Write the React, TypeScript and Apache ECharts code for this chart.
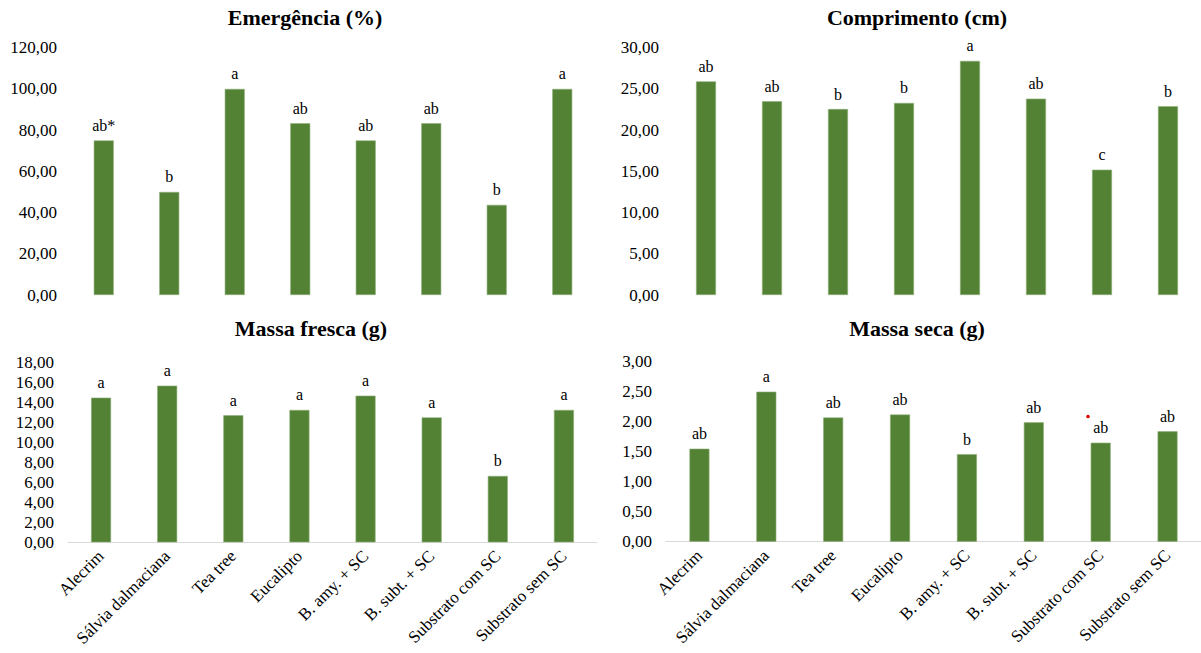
import React, { useEffect, useRef } from "react";
import * as echarts from "echarts";

const categories = [
  "Alecrim",
  "Sálvia dalmaciana",
  "Tea tree",
  "Eucalipto",
  "B. amy. + SC",
  "B. subt. + SC",
  "Substrato com SC",
  "Substrato sem SC",
];

const emergencia = [75, 50, 100, 83.33, 75, 83.33, 43.75, 100];
const emergenciaLetters = ["ab*", "b", "a", "ab", "ab", "ab", "b", "a"];

const comprimento = [25.92, 23.5, 22.56, 23.3, 28.4, 23.82, 15.2, 22.9];
const comprimentoLetters = ["ab", "ab", "b", "b", "a", "ab", "c", "b"];

const massaFresca = [14.5, 15.7, 12.73, 13.26, 14.7, 12.52, 6.65, 13.26];
const massaFrescaLetters = ["a", "a", "a", "a", "a", "a", "b", "a"];

const massaSeca = [1.55, 2.5, 2.07, 2.12, 1.46, 1.99, 1.65, 1.84];
const massaSecaLetters = ["ab", "a", "ab", "ab", "b", "ab", "ab", "ab"];

const titles = ["Emergência (%)", "Comprimento (cm)", "Massa fresca (g)", "Massa seca (g)"];

const FONT = "Liberation Serif";
const GREEN = "#548235";

export default function App() {
  const ref = useRef<HTMLDivElement>(null);

  useEffect(() => {
    if (!ref.current) return;
    const chart = echarts.init(ref.current, undefined, { renderer: "svg" });

    const grids = [
      { left: 71, width: 524, top: 47.7, height: 247.3 },
      { left: 673, width: 531, top: 47.7, height: 247.3 },
      { left: 68, width: 529, top: 362.7, height: 179.6 },
      { left: 666, width: 537, top: 361.7, height: 180 },
    ];
    const yCfg = [
      { max: 120, interval: 20 },
      { max: 30, interval: 5 },
      { max: 18, interval: 2 },
      { max: 3, interval: 0.5 },
    ];
    const values = [emergencia, comprimento, massaFresca, massaSeca];
    const letters = [emergenciaLetters, comprimentoLetters, massaFrescaLetters, massaSecaLetters];
    const titlePos = [
      { x: 305, y: 6 },
      { x: 917, y: 6 },
      { x: 311, y: 317 },
      { x: 917, y: 317 },
    ];

    const option: any = {
      animation: false,
      backgroundColor: "#ffffff",
      textStyle: { fontFamily: FONT },
      title: titles.map((t, i) => ({
        text: t,
        left: titlePos[i].x,
        top: titlePos[i].y,
        textAlign: "center",
        padding: 0,
        textStyle: { fontFamily: FONT, fontSize: 22, fontWeight: "bold", color: "#000" },
      })),
      grid: grids.map((g) => ({ ...g, containLabel: false })),
      xAxis: grids.map((_, i) => ({
        type: "category",
        gridIndex: i,
        data: categories,
        axisTick: { show: false },
        axisLine: { show: i >= 2, lineStyle: { color: "#d9d9d9", width: 1 } },
        axisLabel: {
          show: i >= 2,
          rotate: 45,
          interval: 0,
          margin: 11,
          fontFamily: FONT,
          fontSize: 17,
          color: "#000",
        },
      })),
      yAxis: grids.map((_, i) => ({
        type: "value",
        gridIndex: i,
        min: 0,
        max: yCfg[i].max,
        interval: yCfg[i].interval,
        splitLine: { show: false },
        axisLine: { show: false },
        axisTick: { show: false },
        axisLabel: {
          margin: 14,
          fontFamily: FONT,
          fontSize: 17,
          color: "#000",
          formatter: (v: number) => v.toFixed(2).replace(".", ","),
        },
      })),
      series: values.map((vals, i) => ({
        type: "bar",
        xAxisIndex: i,
        yAxisIndex: i,
        data: vals,
        barWidth: 20,
        itemStyle: { color: GREEN, borderColor: "#8fb07a", borderWidth: 0.6 },
        label: {
          show: true,
          position: "top",
          distance: 7,
          fontFamily: FONT,
          fontSize: 16,
          color: "#000",
          formatter: (p: any) => letters[i][p.dataIndex],
        },
      })),
      graphic: [
        {
          type: "circle",
          shape: { cx: 1088, cy: 416.5, r: 1.8 },
          style: { fill: "#e00000" },
          silent: true,
        },
      ],
    };

    chart.setOption(option);
    return () => chart.dispose();
  }, []);

  return (
    <div
      ref={ref}
      style={{ position: "absolute", left: 0, top: 0, width: 1201, height: 653, background: "#fff" }}
    />
  );
}
